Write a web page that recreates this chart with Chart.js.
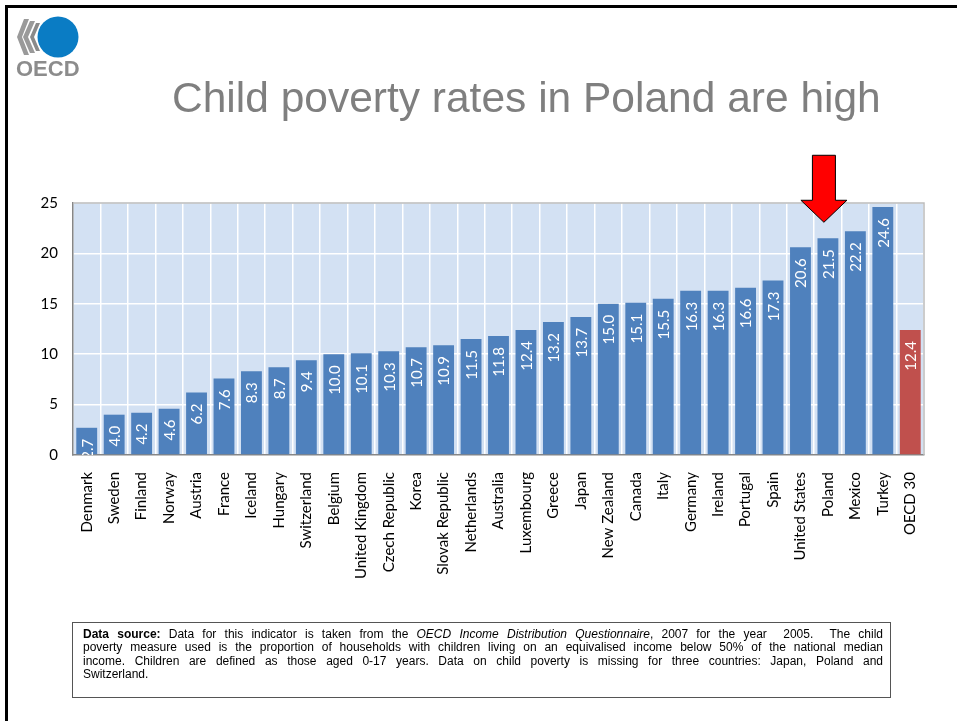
<!DOCTYPE html>
<html>
<head>
<meta charset="utf-8">
<script src="https://cdn.jsdelivr.net/npm/chart.js@4.4.1/dist/chart.umd.min.js"></script>
<style>
  html, body { margin: 0; padding: 0; background: #fff; }
  body { width: 957px; height: 721px; position: relative; overflow: hidden; }
  #frame { position: absolute; left: 5px; top: 5px; width: 980px; height: 740px;
           border-left: 3px solid #000; border-top: 3px solid #000; }
  #chart { position: absolute; left: 0; top: 0; }
  #logo { position: absolute; left: 0; top: 0; }
  #title { position: absolute; left: 172px; top: 77px; font: 42.5px "Liberation Sans", Arial, sans-serif;
           line-height: 1; color: #7f7f7f; white-space: nowrap; }
  #source { position: absolute; left: 72px; top: 622px; width: 800px; height: 65px;
            border: 1px solid #555; padding: 5px 7px 4px 10px;
            font: 12px "Liberation Sans", Arial, sans-serif; line-height: 13.3px; color: #000; }
  #source div { text-align: justify; text-align-last: justify; white-space: nowrap; }
  #source div.last { text-align-last: left; }
</style>
</head>
<body>
<div id="frame"></div>
<canvas id="chart" width="957" height="721"></canvas>
<svg id="logo" width="100" height="90">
  <polygon points="24,19 29,19 22,37 29,55 24,55 17,37" fill="#9a9a9a"/>
  <polygon points="30,21 35,21 28,37 35,53 30,53 23,37" fill="#9a9a9a"/>
  <polygon points="36,23 40,23 34,37 40,51 36,51 30,37" fill="#8a8a8a"/>
  <circle cx="58" cy="37" r="20.5" fill="#0a7cc4"/>
  <text x="16" y="76" font-family="Liberation Sans, Arial, sans-serif" font-size="22" font-weight="bold" fill="#8c8c8c">OECD</text>
</svg>
<div id="title">Child poverty rates in Poland are high</div>
<div id="source">
  <div><b>Data source:</b> Data for this indicator is taken from the <i>OECD Income Distribution Questionnaire</i>, 2007 for the year&nbsp; 2005.&nbsp; The child</div>
  <div>poverty measure used is the proportion of households with children living on an equivalised income below 50% of the national median</div>
  <div>income. Children are defined as those aged 0-17 years. Data on child poverty is missing for three countries: Japan, Poland and</div>
  <div class="last">Switzerland.</div>
</div>
<script>
const countries = ['Denmark', 'Sweden', 'Finland', 'Norway', 'Austria', 'France', 'Iceland', 'Hungary',
  'Switzerland', 'Belgium', 'United Kingdom', 'Czech Republic', 'Korea', 'Slovak Republic', 'Netherlands',
  'Australia', 'Luxembourg', 'Greece', 'Japan', 'New Zealand', 'Canada', 'Italy', 'Germany', 'Ireland',
  'Portugal', 'Spain', 'United States', 'Poland', 'Mexico', 'Turkey', 'OECD 30'];
const povertyRates = [2.7, 4.0, 4.2, 4.6, 6.2, 7.6, 8.3, 8.7, 9.4, 10.0, 10.1, 10.3, 10.7, 10.9, 11.5,
  11.8, 12.4, 13.2, 13.7, 15.0, 15.1, 15.5, 16.3, 16.3, 16.6, 17.3, 20.6, 21.5, 22.2, 24.6, 12.4];
const yTicks = [0, 5, 10, 15, 20, 25];
const highlighted = 'Poland';
const average = 'OECD 30';

const barColors = countries.map((c) => (c === average ? '#c0504d' : '#4f81bd'));

// light blue plot background + thin outline on top/right
const plotBackground = {
  id: 'plotBackground',
  beforeDraw(chart) {
    const { ctx, chartArea: a } = chart;
    ctx.save();
    ctx.fillStyle = '#d3e1f3';
    ctx.fillRect(a.left, a.top, a.right - a.left, a.bottom - a.top);
    ctx.restore();
  },
  beforeDatasetsDraw(chart) {
    const { ctx, chartArea: a } = chart;
    ctx.save();
    ctx.strokeStyle = '#bcbcbc';
    ctx.lineWidth = 1.5;
    ctx.beginPath();
    ctx.moveTo(a.left, a.top);
    ctx.lineTo(a.right, a.top);
    ctx.lineTo(a.right, a.bottom);
    ctx.stroke();
    ctx.restore();
  },
};

// vertical value labels inside the top of each bar
const barLabels = {
  id: 'barLabels',
  afterDatasetsDraw(chart) {
    const { ctx, chartArea } = chart;
    const meta = chart.getDatasetMeta(0);
    ctx.save();
    ctx.beginPath();
    ctx.rect(chartArea.left, chartArea.top, chartArea.right - chartArea.left, chartArea.bottom - chartArea.top);
    ctx.clip();
    ctx.fillStyle = '#ffffff';
    ctx.font = '15px Lato, sans-serif';
    ctx.textAlign = 'right';
    ctx.textBaseline = 'middle';
    meta.data.forEach((bar, i) => {
      ctx.save();
      ctx.translate(bar.x + 1, bar.y + 11);
      ctx.rotate(-Math.PI / 2);
      ctx.fillText(povertyRates[i].toFixed(1), 0, 0);
      ctx.restore();
    });
    ctx.restore();
  },
};

// red arrow pointing at the highlighted country
const arrow = {
  id: 'arrow',
  afterDraw(chart) {
    const { ctx } = chart;
    const bar = chart.getDatasetMeta(0).data[countries.indexOf(highlighted)];
    const x = bar.x - 4;
    const tip = bar.y - 16;
    ctx.save();
    ctx.fillStyle = '#ff0000';
    ctx.strokeStyle = '#000';
    ctx.lineWidth = 1;
    ctx.beginPath();
    ctx.moveTo(x, tip);
    ctx.lineTo(x - 23, tip - 22);
    ctx.lineTo(x - 11.5, tip - 22);
    ctx.lineTo(x - 11.5, tip - 67);
    ctx.lineTo(x + 11.5, tip - 67);
    ctx.lineTo(x + 11.5, tip - 22);
    ctx.lineTo(x + 23, tip - 22);
    ctx.closePath();
    ctx.fill();
    ctx.stroke();
    ctx.restore();
  },
};

new Chart(document.getElementById('chart'), {
  type: 'bar',
  data: {
    labels: countries,
    datasets: [{
      data: povertyRates,
      backgroundColor: barColors,
      borderWidth: 0,
      barPercentage: 0.76,
      categoryPercentage: 1,
    }],
  },
  options: {
    responsive: false,
    animation: false,
    layout: { padding: { left: 20, right: 33, top: 203, bottom: 116 } },
    plugins: { legend: { display: false }, tooltip: { enabled: false } },
    scales: {
      x: {
        afterFit: (scale) => { scale.height = 150; },
        grid: { color: '#ffffff', lineWidth: 1.5, drawTicks: false },
        border: { color: '#868686', width: 1.5 },
        ticks: {
          minRotation: 90, maxRotation: 90, autoSkip: false, padding: 17,
          color: '#000', font: { family: 'Lato', size: 15 },
        },
      },
      y: {
        min: 0, max: 25,
        afterFit: (scale) => { scale.width = 53; },
        afterBuildTicks: (scale) => { scale.ticks = yTicks.map((v) => ({ value: v })); },
        grid: { color: '#ffffff', lineWidth: 1.5, drawTicks: false },
        border: { color: '#868686', width: 1.5 },
        ticks: { padding: 15, color: '#000', font: { family: 'Lato', size: 15 } },
      },
    },
  },
  plugins: [plotBackground, barLabels, arrow],
});
</script>
</body>
</html>
